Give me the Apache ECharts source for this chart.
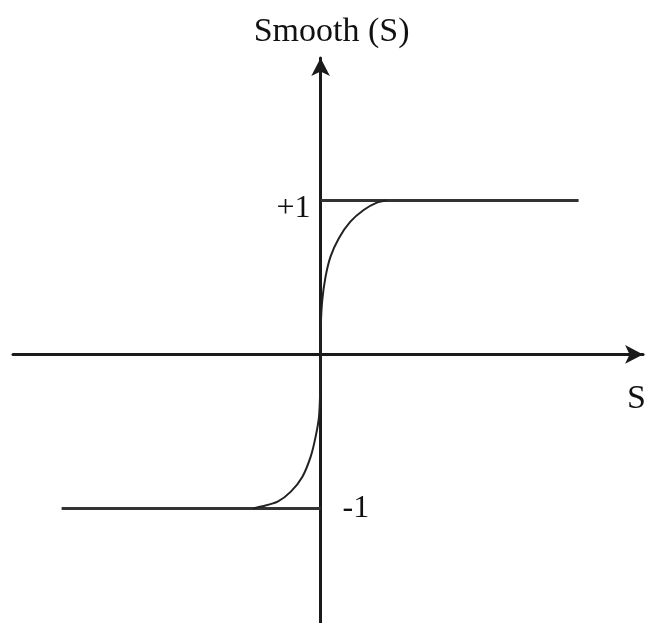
<!DOCTYPE html>
<html>
<head>
<meta charset="utf-8">
<script src="https://cdn.jsdelivr.net/npm/echarts@6/dist/echarts.min.js"></script>
<style>
  html, body { margin: 0; padding: 0; background: #fff; }
  #main { width: 649px; height: 623px; }
</style>
</head>
<body>
<div id="main"></div>
<script>
// saturation curve (x = s, y = smooth(s))
const upperX = [0, 0.003, 0.017, 0.05, 0.10, 0.184, 0.30, 0.434, 0.567, 0.667];
const upperY = [0, 0.20, 0.354, 0.505, 0.635, 0.755, 0.862, 0.938, 0.986, 1.0];
const lowerX = [-0.68, -0.60, -0.433, -0.30, -0.183, -0.10, -0.05, -0.016, -0.003, 0];
const lowerY = [-1.0, -0.988, -0.956, -0.891, -0.794, -0.664, -0.534, -0.404, -0.20, 0];
// the two flat levels
const plusLevelX = [0, 2.60];
const plusLevelY = [1, 1];
const minusLevelX = [-2.61, 0];
const minusLevelY = [-1, -1];
const levelLabels = ["+1", "-1"];

const font = '"Liberation Serif", "DejaVu Serif", serif';

function pairs(xs, ys) {
  return xs.map((x, i) => [x, ys[i]]);
}

const chart = echarts.init(document.getElementById("main"));
chart.setOption({
  animation: false,
  grid: { left: 13, right: 1, top: 58, bottom: 0 },
  xAxis: {
    type: "value",
    min: -3.10,
    max: 3.25,
    name: "S",
    nameLocation: "end",
    nameGap: -16,
    nameTextStyle: {
      fontFamily: font,
      fontSize: 34,
      color: "#111",
      align: "left",
      verticalAlign: "top",
      padding: [28, 0, 0, 0],
    },
    axisLine: {
      onZero: true,
      symbol: ["none", "arrow"],
      symbolSize: [14, 18],
      lineStyle: { color: "#1a1a1a", width: 3 },
    },
    axisTick: { show: false },
    axisLabel: { show: false },
    splitLine: { show: false },
  },
  yAxis: {
    type: "value",
    min: -1.744,
    max: 1.925,
    name: "Smooth (S)",
    nameLocation: "end",
    nameGap: 9,
    nameTextStyle: {
      fontFamily: font,
      fontSize: 34,
      color: "#111",
      padding: [0, 0, 0, 22],
    },
    axisLine: {
      onZero: true,
      symbol: ["none", "arrow"],
      symbolSize: [14, 18],
      lineStyle: { color: "#1a1a1a", width: 3 },
    },
    axisTick: { show: false },
    axisLabel: { show: false },
    splitLine: { show: false },
  },
  series: [
    {
      type: "line",
      data: pairs(plusLevelX, plusLevelY),
      symbol: "circle",
      symbolSize: 0,
      lineStyle: { color: "#333", width: 3 },
      label: {
        show: true,
        position: "left",
        distance: 10,
        offset: [0, 8],
        fontFamily: font,
        fontSize: 32,
        color: "#111",
        formatter: (p) => (p.dataIndex === 0 ? levelLabels[0] : ""),
      },
    },
    {
      type: "line",
      data: pairs(minusLevelX, minusLevelY),
      symbol: "circle",
      symbolSize: 0,
      lineStyle: { color: "#333", width: 3 },
      label: {
        show: true,
        position: "right",
        distance: 22,
        fontFamily: font,
        fontSize: 32,
        color: "#111",
        formatter: (p) => (p.dataIndex === 1 ? levelLabels[1] : ""),
      },
    },
    {
      type: "line",
      data: pairs(upperX, upperY),
      smooth: 0.3,
      showSymbol: false,
      lineStyle: { color: "#222", width: 2 },
    },
    {
      type: "line",
      data: pairs(lowerX, lowerY),
      smooth: 0.3,
      showSymbol: false,
      lineStyle: { color: "#222", width: 2 },
    },
  ],
});
</script>
</body>
</html>
